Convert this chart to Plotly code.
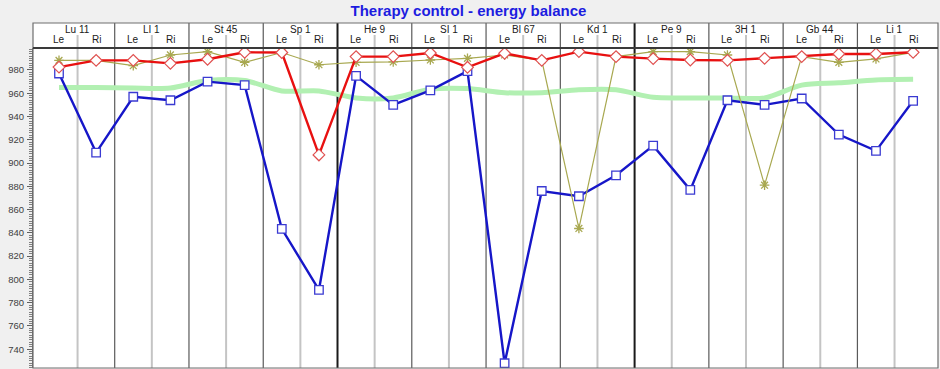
import numpy as np
import plotly.graph_objects as go

# ---------------- data ----------------
groups = ["Lu 11", "LI 1", "St 45", "Sp 1", "He 9", "SI 1",
          "Bl 67", "Kd 1", "Pe 9", "3H 1", "Gb 44", "Li 1"]
sides = ["Le", "Ri"]

blue = [977, 909, 957, 954, 970, 967, 843.5, 791, 975, 950, 962.5, 979,
        728, 876, 871.5, 889.5, 915, 877, 954, 950, 955.5, 924.5, 910.5, 953.5]
red = [982.5, 988.3, 988.3, 985.7, 989.2, 995.2, 995, 907, 991.5, 991.5, 994.6, 982.3,
       994.3, 988.3, 995.8, 991.5, 989.8, 988.6, 988.3, 990, 991.5, 993.8, 993.8, 995.2]
olive = [988.3, 988.3, 983.7, 992.9, 995.8, 986.6, 995, 984.5, 986.6, 986.9, 988.6, 990,
         992.9, 988.3, 843.8, 991.5, 995.8, 995.8, 992.9, 881, 991.5, 986.6, 989.5, 995.2]
green = [965, 965, 964.5, 964.5, 971, 971, 962, 962, 956, 956, 963.5, 964,
         960.5, 960.5, 963, 963, 956.5, 956, 956, 956, 967, 969, 971.5, 972]

y_ticks = [740, 760, 780, 800, 820, 840, 860, 880, 900, 920, 940, 960, 980]

# ---------------- figure ----------------
n = len(blue)
x = np.arange(n)

fig = go.Figure()
fig.add_trace(go.Scatter(x=x, y=green, mode="lines",
                         line=dict(color="#b2f0b2", width=5, shape="spline", smoothing=0.8),
                         hoverinfo="skip"))
fig.add_trace(go.Scatter(x=x, y=blue, mode="lines+markers",
                         line=dict(color="#1616c8", width=2.4),
                         marker=dict(symbol="square", size=8.5, color="white",
                                     line=dict(color="#3a3ad2", width=1.3))))
fig.add_trace(go.Scatter(x=x, y=olive, mode="lines+markers",
                         line=dict(color="#a8a850", width=1.2),
                         marker=dict(symbol="asterisk-open", size=8,
                                     line=dict(color="#6a7a10", width=1.3))))
fig.add_trace(go.Scatter(x=x, y=red, mode="lines+markers",
                         line=dict(color="#e81010", width=2.4),
                         marker=dict(symbol="diamond", size=9, color="white",
                                     line=dict(color="#e05050", width=1.2))))

H_DATA_TOP = 320 / 345      # paper y of the header/plot separator
H_SUB_TOP = 333 / 345       # top of Le/Ri row dividers
ROW1 = 339 / 345
ROW2 = 328 / 345

shapes = []
# header background
shapes.append(dict(type="rect", xref="paper", yref="paper", x0=0, x1=1, y0=H_DATA_TOP, y1=1,
                   fillcolor="white", line=dict(width=0), layer="below"))
# sub dividers (Le / Ri)
for g in range(len(groups)):
    shapes.append(dict(type="line", xref="x", yref="paper", x0=2 * g + 0.5, x1=2 * g + 0.5,
                       y0=0, y1=H_SUB_TOP, line=dict(color="#c4c4c4", width=2), layer="below"))
# group dividers
for g in range(1, len(groups)):
    dark = (g % 4 == 0)
    shapes.append(dict(type="line", xref="x", yref="paper", x0=2 * g - 0.5, x1=2 * g - 0.5,
                       y0=0, y1=1, line=dict(color="#1a1a1a" if dark else "#5a5a5a",
                                             width=2 if dark else 1.2), layer="below"))
# frame and separator
shapes.append(dict(type="rect", xref="paper", yref="paper", x0=0, x1=1, y0=0, y1=1,
                   line=dict(color="#6e6e6e", width=1.2), layer="above"))
shapes.append(dict(type="line", xref="paper", yref="paper", x0=0, x1=1,
                   y0=H_DATA_TOP, y1=H_DATA_TOP, line=dict(color="#3a3a3a", width=2), layer="above"))

annotations = []
for g, name in enumerate(groups):
    annotations.append(dict(x=2 * g + 0.5, y=ROW1, xref="x", yref="paper", text=name,
                            showarrow=False, yanchor="middle",
                            font=dict(family="Liberation Sans", size=10, color="#202020")))
    for s, side in enumerate(sides):
        annotations.append(dict(x=2 * g + s, y=ROW2, xref="x", yref="paper", text=side,
                                showarrow=False, yanchor="middle",
                                font=dict(family="Liberation Sans", size=10, color="#202020")))

fig.update_layout(
    width=940, height=369,
    margin=dict(l=33, r=2, t=23, b=1, pad=0, autoexpand=False),
    paper_bgcolor="#f0f0f0", plot_bgcolor="white",
    showlegend=False,
    title=dict(text="Therapy control - energy balance", xref="container", yref="container",
               x=468.5 / 940, y=1 - 11 / 369, xanchor="center", yanchor="middle",
               font=dict(family="Liberation Sans", size=15, color="#1c1ce0", weight="bold")),
    xaxis=dict(range=[-0.70, 23.67], showgrid=False, zeroline=False, showticklabels=False,
               ticks="", showline=False, fixedrange=True),
    yaxis=dict(domain=[0, H_DATA_TOP], range=[723.9, 998.9], showgrid=False, zeroline=False,
               tickmode="array", tickvals=y_ticks, ticks="outside", ticklen=5,
               tickcolor="#606060", tickwidth=1, showline=True, linecolor="#6e6e6e",
               linewidth=1.2, automargin=False,
               ticklabelstandoff=1,
               tickfont=dict(family="Liberation Sans", size=9.5, color="#404040"),
               minor=dict(ticks="outside", ticklen=2.5, dtick=2, tick0=0,
                          tickcolor="#808080", showgrid=False)),
    shapes=shapes, annotations=annotations,
)

fig.write_html("out.html", config={"displayModeBar": False},
               post_script="document.body.style.margin='0px';document.body.style.background='#f0f0f0';")
